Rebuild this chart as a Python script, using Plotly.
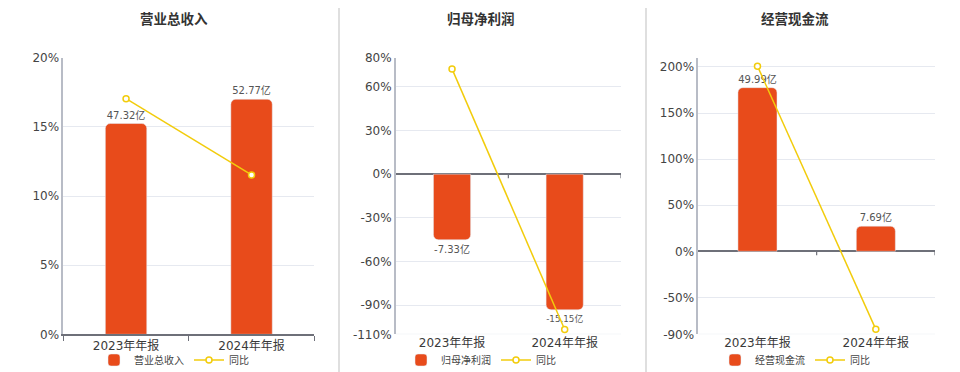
import plotly.graph_objects as go

categories = ["2023年年报", "2024年年报"]

revenue = [47.32, 52.77]
revenue_yoy = [17.04, 11.52]

profit = [-7.33, -15.15]
profit_yoy = [72.3, -106.7]

cash = [49.99, 7.69]
cash_yoy = [200.8, -84.6]

titles = ["营业总收入", "归母净利润", "经营现金流"]
bar_names = ["营业总收入", "归母净利润", "经营现金流"]
yoy_name = "同比"

p1_ticks = [0, 5, 10, 15, 20]
p2_ticks = [-110, -90, -60, -30, 0, 30, 60, 80]
p3_ticks = [-90, -50, 0, 50, 100, 150, 200, 210]

BAR = "#E84B1B"
LINE = "#F2CC0C"
FONT = "DejaVu Sans, Noto Sans CJK SC, sans-serif"
GRID = "#E6E9F0"
AXIS = "#6E7079"

W, H = 960, 372
def fx(px):
    return px / W
def fy(py):
    return 1 - py / H

ydom = [fy(334.3), fy(57.7)]
xdoms = [[fx(63.3), fx(314.3)], [fx(395.7), fx(621)], [fx(698.3), fx(935)]]

fig = go.Figure()

panels = [
    (revenue, revenue_yoy, p1_ticks, [0, 20], [0, 62.1]),
    (profit, profit_yoy, p2_ticks, [-110, 80], [-17.89, 13.01]),
    (cash, cash_yoy, p3_ticks, [-90, 210], [-25.35, 59.14]),
]
legend_ids = ["legend", "legend2", "legend3"]
title_x = [174, 481, 795]

layout = dict(
    width=W, height=H, autosize=False,
    margin=dict(l=0, r=0, t=0, b=0, pad=0, autoexpand=False),
    paper_bgcolor="white", plot_bgcolor="white",
    font=dict(family=FONT, size=12, color="#444"),
    showlegend=True,
    barcornerradius=5,
)

shapes = []
annotations = []

for i, (vals, yoy, ticks, prange, brange) in enumerate(panels):
    xn = "x" if i == 0 else f"x{i+1}"
    yb = 2 * i + 1
    yl = 2 * i + 2
    ybn = "y" if yb == 1 else f"y{yb}"
    yln = f"y{yl}"
    labels = [f"{v:.2f}亿" for v in vals]
    fig.add_trace(go.Bar(
        x=categories, y=vals, name=bar_names[i], marker_color=BAR,
        width=0.33, text=labels, textposition="outside",
        textfont=dict(size=10, color="#555"), cliponaxis=False,
        xaxis=xn, yaxis=ybn, legend=legend_ids[i],
    ))
    fig.add_trace(go.Scatter(
        x=categories, y=yoy, name=yoy_name, mode="lines+markers",
        line=dict(color=LINE, width=1.5),
        marker=dict(symbol="circle", size=6, color="white",
                    line=dict(color=LINE, width=1.5)),
        cliponaxis=False,
        xaxis=xn, yaxis=yln, legend=legend_ids[i],
    ))
    xkey = "xaxis" if i == 0 else f"xaxis{i+1}"
    ybkey = "yaxis" if yb == 1 else f"yaxis{yb}"
    ylkey = f"yaxis{yl}"
    layout[xkey] = dict(
        domain=xdoms[i], anchor=ybn, type="category", automargin=False,
        categoryorder="array", categoryarray=categories,
        range=[-0.5, 1.5], showgrid=False, zeroline=False,
        showline=(i == 0), linecolor=AXIS, linewidth=1.5,
        ticks="outside" if i == 0 else "", tickson="boundaries",
        ticklen=5, tickcolor=AXIS,
        tickfont=dict(size=12, color="#3a3a3a"),
    )
    layout[ybkey] = dict(
        domain=ydom, anchor=xn, range=brange, visible=False, automargin=False,
        showgrid=False, zeroline=False, fixedrange=True,
    )
    ttext = [("" if t == 210 else f"{t}%") for t in ticks]
    layout[ylkey] = dict(
        domain=ydom, anchor=xn, overlaying=ybn, side="left", automargin=False,
        range=prange, tickmode="array", tickvals=ticks, ticktext=ttext,
        showgrid=True, gridcolor=GRID, gridwidth=1,
        zeroline=(i != 0), zerolinecolor=AXIS, zerolinewidth=1.5,
        showline=True, linecolor="#B8BCC6", linewidth=1.5,
        ticks="", tickfont=dict(size=12, color="#444"),
    )
    layout[legend_ids[i]] = dict(
        orientation="h", x=fx(title_x[i]), xanchor="center",
        y=fy(360), yanchor="middle",
        font=dict(size=10, color="#444"), bgcolor="rgba(0,0,0,0)",
        itemwidth=30, tracegroupgap=0,
    )
    annotations.append(dict(
        text=f"<b>{titles[i]}</b>", x=fx(title_x[i]), y=fy(19),
        xref="paper", yref="paper", showarrow=False,
        xanchor="center", yanchor="middle",
        font=dict(size=13.5, color="#333", family=FONT),
    ))
    if i != 0:
        for tx in [0.5, 1.5]:
            shapes.append(dict(
                type="line", xref=xn, yref=yln, ysizemode="pixel",
                yanchor=0, x0=tx, x1=tx, y0=0, y1=-4,
                line=dict(color=AXIS, width=1.2),
            ))
        shapes.append(dict(
            type="line", xref=xn, yref=yln, x0=-0.5, x1=1.5,
            y0=prange[0], y1=prange[0], line=dict(color=GRID, width=1),
            layer="below",
        ))

for sx in [339, 646]:
    shapes.append(dict(
        type="line", xref="paper", yref="paper",
        x0=fx(sx), x1=fx(sx), y0=0, y1=fy(8),
        line=dict(color="#D4D4D4", width=1.5),
    ))

layout["shapes"] = shapes
layout["annotations"] = annotations
fig.update_layout(**layout)

fig.write_html(
    "out.html",
    config={"displayModeBar": False},
    post_script="document.body.style.margin='0';document.body.style.padding='0';",
)
